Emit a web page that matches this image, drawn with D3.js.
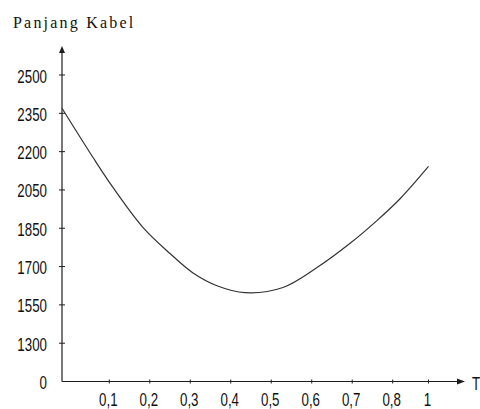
<!DOCTYPE html>
<html>
<head>
<meta charset="utf-8">
<script src="https://cdn.jsdelivr.net/npm/d3@7"></script>
<style>
  html, body { margin: 0; padding: 0; background: #fff; }
  svg { display: block; }
</style>
</head>
<body>
<svg id="chart" width="480" height="409"></svg>
<script>
// ---- data ----
const yTickValues = [0, 1300, 1550, 1700, 1850, 2050, 2200, 2350, 2500];
const yTickLabels = ["0", "1300", "1550", "1700", "1850", "2050", "2200", "2350", "2500"];
const xTickValues = [0.1, 0.2, 0.3, 0.4, 0.5, 0.6, 0.7, 0.8, 1];
const xTickLabels = ["0,1", "0,2", "0,3", "0,4", "0,5", "0,6", "0,7", "0,8", "1"];
const tValues   = [0, 0.066, 0.109, 0.183, 0.25, 0.306, 0.366, 0.435, 0.529, 0.613, 0.694, 0.761, 0.841, 1.0];
const cableLen  = [2370, 2176, 2060, 1855, 1751, 1676, 1625, 1598, 1618, 1696, 1790, 1890, 2004, 2142];
const yTitle = "Panjang Kabel";
const xTitle = "T";

// ---- layout ----
const svg = d3.select("#chart");
const x0 = 62, yBase = 381.5;
const yTop = 75, xArrow = 465, yArrow = 46;

const x = d3.scaleLinear()
  .domain([0, 0.1, 0.8, 1])
  .range([x0, 109.3, 392.7, 428.5]);

const step = (yBase - yTop) / (yTickValues.length - 1);
const y = d3.scaleLinear()
  .domain(yTickValues)
  .range(yTickValues.map((d, i) => yBase - i * step));

const ink = "#1e1e1e";
const labelFont = "Liberation Sans, Arial, sans-serif";

// axes lines
svg.append("line").attr("x1", x0).attr("x2", x0).attr("y1", yBase).attr("y2", yArrow + 4)
  .attr("stroke", ink).attr("stroke-width", 1.2);
svg.append("line").attr("x1", x0).attr("x2", xArrow - 4).attr("y1", yBase).attr("y2", yBase)
  .attr("stroke", ink).attr("stroke-width", 1.2);
// arrowheads
svg.append("path").attr("d", `M${x0},${yArrow} L${x0-3},${yArrow+7} L${x0+3},${yArrow+7} Z`).attr("fill", ink);
svg.append("path").attr("d", `M${xArrow},${yBase} L${xArrow-8},${yBase-3} L${xArrow-8},${yBase+3} Z`).attr("fill", ink);

// y ticks
svg.append("g").selectAll("line").data(yTickValues.slice(1)).join("line")
  .attr("x1", x0 - 3).attr("x2", x0 + 3)
  .attr("y1", d => y(d)).attr("y2", d => y(d))
  .attr("stroke", ink).attr("stroke-width", 1);

// y labels (condensed look)
svg.append("g").selectAll("g").data(yTickValues).join("g")
  .attr("transform", d => `translate(47,${y(d) + 7.5}) scale(0.74,1)`)
  .append("text")
  .attr("text-anchor", "end")
  .attr("font-family", labelFont)
  .attr("font-size", 18)
  .attr("fill", "#111")
  .text((d, i) => yTickLabels[i]);

// x ticks
svg.append("g").selectAll("line").data(xTickValues).join("line")
  .attr("x1", d => x(d)).attr("x2", d => x(d))
  .attr("y1", yBase - 2).attr("y2", yBase + 2)
  .attr("stroke", ink).attr("stroke-width", 1);

// x labels
svg.append("g").selectAll("g").data(xTickValues).join("g")
  .attr("transform", d => `translate(${x(d) - 1},406) scale(0.74,1)`)
  .append("text")
  .attr("text-anchor", "middle")
  .attr("font-family", labelFont)
  .attr("font-size", 18)
  .attr("fill", "#111")
  .text((d, i) => xTickLabels[i]);

// axis titles
svg.append("text").attr("x", 13).attr("y", 28)
  .attr("font-family", "Liberation Serif, Times New Roman, serif")
  .attr("font-size", 16).attr("letter-spacing", 2.2).attr("fill", "#111")
  .text(yTitle);
svg.append("g").attr("transform", "translate(472,390) scale(0.74,1)")
  .append("text")
  .attr("font-family", labelFont)
  .attr("font-size", 18).attr("fill", "#111")
  .text(xTitle);

// curve
const line = d3.line()
  .x(d => x(d[0]))
  .y(d => y(d[1]))
  .curve(d3.curveCatmullRom.alpha(0.5));
svg.append("path")
  .datum(tValues.map((t, i) => [t, cableLen[i]]))
  .attr("d", line)
  .attr("fill", "none")
  .attr("stroke", "#333")
  .attr("stroke-width", 1.2);
</script>
</body>
</html>
